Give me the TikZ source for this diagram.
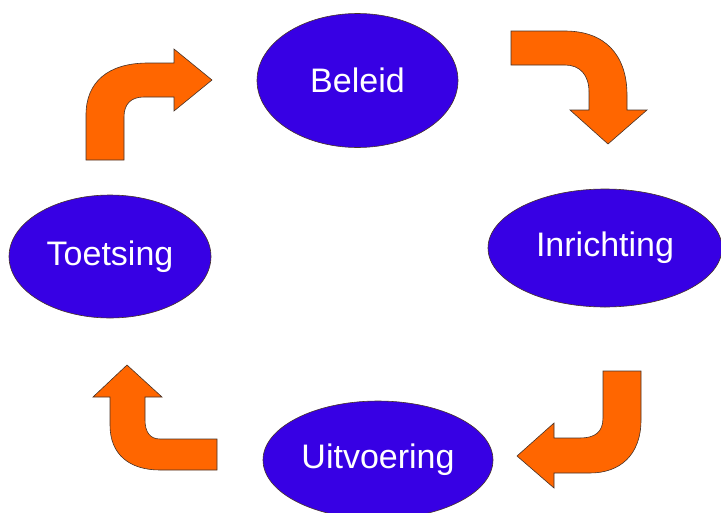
\documentclass[tikz,border=0pt]{standalone}
\usepackage{fontspec}
\setmainfont{Liberation Sans}
\usepackage{tikz}
\usetikzlibrary{shapes.geometric}

\definecolor{cycleblue}{RGB}{55,0,228}
\definecolor{cycleorange}{RGB}{255,102,0}
\definecolor{edgegray}{RGB}{70,50,40}

\begin{document}
\begin{tikzpicture}[
    x=1pt, y=-1pt,
    phase/.style={ellipse, draw=edgegray, line width=0.6pt, fill=cycleblue, text=white,
        inner sep=0pt, font=\fontsize{34}{40}\selectfont},
    bentarrow/.style={draw=edgegray, line width=0.6pt, fill=cycleorange, line join=miter}
]
\useasboundingbox (0,0) rectangle (721,512);

\node[phase, minimum width=201pt, minimum height=134pt] (B) at (357.5,80.5) {Beleid};
\node[phase, minimum width=234pt, minimum height=118pt] (I) at (605,248) {Inrichting};
\node[phase, minimum width=230pt, minimum height=118pt] (U) at (378,460) {Uitvoering};
\node[phase, minimum width=202pt, minimum height=123pt] (T) at (110,256.5) {Toetsing};

% Toetsing -> Beleid
\draw[bentarrow] (86,160) -- (86,115) .. controls (86,82) and (108,63) .. (148,63)
    -- (174,63) -- (174,49) -- (212,80) -- (174,111) -- (174,97) -- (144,97)
    .. controls (131,97) and (124,104) .. (124,117) -- (124,160) -- cycle;
% Beleid -> Inrichting
\draw[bentarrow] (511,31) -- (565,31) .. controls (605,31) and (627,55) .. (627,95)
    -- (627,110) -- (647,110) -- (608,144) -- (570,110) -- (589,110) -- (589,92)
    .. controls (589,75) and (580,65) .. (565,65) -- (511,65) -- cycle;
% Inrichting -> Uitvoering
\draw[bentarrow] (603,371) -- (641,371) -- (641,420) .. controls (641,455) and (620,473) .. (590,473)
    -- (554,473) -- (554,488) -- (517,456) -- (554,423) -- (554,438) -- (580,438)
    .. controls (595,438) and (603,432) .. (603,418) -- cycle;
% Uitvoering -> Toetsing
\draw[bentarrow] (217,439) -- (217,470) -- (160,470) .. controls (130,470) and (110,455) .. (110,425)
    -- (110,397) -- (93,397) -- (127,365) -- (162,397) -- (145,397) -- (145,420)
    .. controls (145,432) and (150,439) .. (160,439) -- cycle;
\end{tikzpicture}
\end{document}
